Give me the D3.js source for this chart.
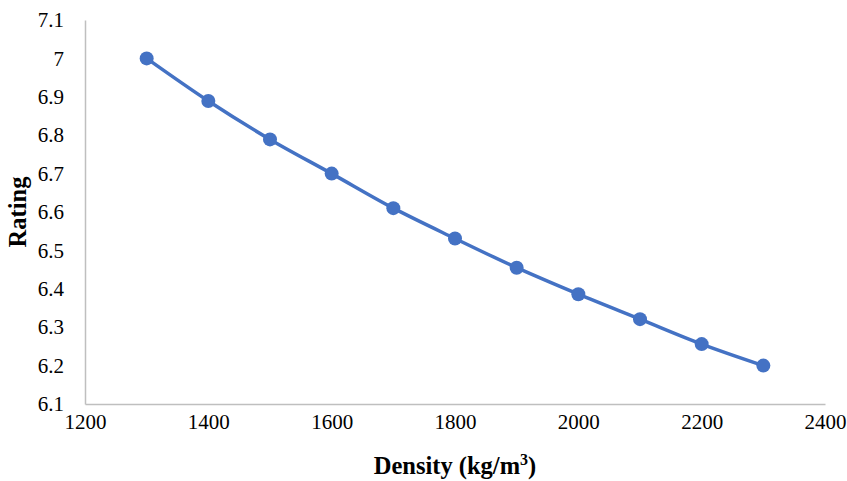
<!DOCTYPE html>
<html>
<head>
<meta charset="utf-8">
<script src="https://cdn.jsdelivr.net/npm/d3@7"></script>
<style>
  body { margin: 0; background: #fff; }
  text { font-family: "Liberation Serif", "Times New Roman", serif; fill: #000; }
</style>
</head>
<body>
<div id="chart"></div>
<script>
// data
const density = [1300, 1400, 1500, 1600, 1700, 1800, 1900, 2000, 2100, 2200, 2300];
const rating = [7.0, 6.889, 6.789, 6.70, 6.61, 6.531, 6.455, 6.386, 6.321, 6.256, 6.2];
const xTicks = [1200, 1400, 1600, 1800, 2000, 2200, 2400];
const yTicks = [6.1, 6.2, 6.3, 6.4, 6.5, 6.6, 6.7, 6.8, 6.9, 7, 7.1];

const width = 847;
const height = 481;
const margin = { top: 20, right: 22, bottom: 77, left: 85 };
const chartWidth = width - margin.left - margin.right;
const chartHeight = height - margin.top - margin.bottom;

const svg = d3.select("#chart").append("svg")
    .attr("width", width)
    .attr("height", height);

const x = d3.scaleLinear().domain([1200, 2400]).range([0, chartWidth]);
const y = d3.scaleLinear().domain([6.1, 7.1]).range([chartHeight, 0]);

const chartArea = svg.append("g")
    .attr("transform", `translate(${margin.left}, ${margin.top})`);

// axes
const xAxis = chartArea.append("g")
    .attr("transform", `translate(0, ${chartHeight})`)
    .call(d3.axisBottom(x).tickValues(xTicks).tickSize(0).tickPadding(10).tickFormat(d3.format("d")));

const yAxis = chartArea.append("g")
    .call(d3.axisLeft(y).tickValues(yTicks).tickSize(0).tickPadding(21).tickFormat(d => String(+d.toFixed(1))));

[xAxis, yAxis].forEach(a => {
    a.attr("font-family", null).attr("font-size", null);
    a.select(".domain").attr("stroke", "#bfbfbf").attr("stroke-width", 1.5);
    a.selectAll("text")
        .style("font-family", "'Liberation Serif', 'Times New Roman', serif")
        .style("font-size", "21px")
        .attr("fill", "#000");
});

// series
const points = density.map((d, i) => [d, rating[i]]);

chartArea.append("path")
    .datum(points)
    .attr("fill", "none")
    .attr("stroke", "#4472c4")
    .attr("stroke-width", 3.5)
    .attr("d", d3.line()
        .x(d => x(d[0]))
        .y(d => y(d[1]))
        .curve(d3.curveCatmullRom));

chartArea.append("g")
    .selectAll("circle")
    .data(points)
    .enter().append("circle")
    .attr("cx", d => x(d[0]))
    .attr("cy", d => y(d[1]))
    .attr("r", 7)
    .attr("fill", "#4472c4");

// axis titles
const xTitle = svg.append("text")
    .attr("x", margin.left + chartWidth / 2)
    .attr("y", 474)
    .attr("text-anchor", "middle")
    .style("font-size", "24.5px")
    .style("font-weight", "bold");
xTitle.append("tspan").text("Density (kg/m");
xTitle.append("tspan").attr("dy", -9).style("font-size", "16px").text("3");
xTitle.append("tspan").attr("dy", 9).text(")");

svg.append("text")
    .attr("transform", `translate(26, ${margin.top + chartHeight / 2}) rotate(-90)`)
    .attr("text-anchor", "middle")
    .style("font-size", "24.5px")
    .style("font-weight", "bold")
    .text("Rating");
</script>
</body>
</html>
